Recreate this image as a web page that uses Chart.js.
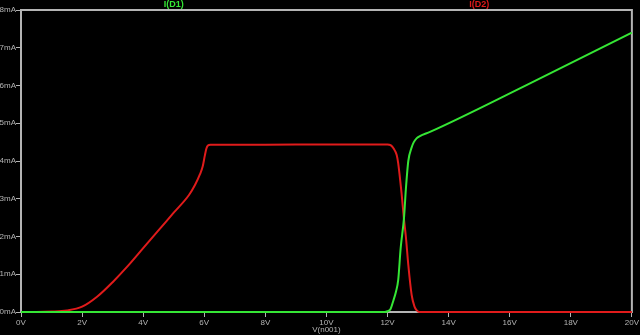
<!DOCTYPE html>
<html>
<head>
<meta charset="utf-8">
<script src="https://cdn.jsdelivr.net/npm/chart.js@4/dist/chart.umd.min.js"></script>
<style>
    html, body { margin: 0; padding: 0; background: #000; }
    #wrap { width: 640px; height: 335px; }
</style>
</head>
<body>
<div id="wrap"><canvas id="ivChart"></canvas></div>
<script>
// sweep values (V, mA)
const voltsD1 = [0, 4, 8, 11.9, 12.0, 12.1, 12.19, 12.28, 12.35, 12.43, 12.54, 12.6, 12.68, 12.79, 12.86, 12.95, 13.06, 13.39, 16.55, 20];
const currD1  = [0, 0, 0, 0, 0.02, 0.08, 0.3, 0.55, 0.85, 1.69, 2.5, 3.25, 4.0, 4.36, 4.5, 4.6, 4.66, 4.77, 6.01, 7.40];

const voltsD2 = [0, 0.5, 1.0, 1.5, 2.0, 2.5, 3.0, 3.5, 4.0, 4.5, 5.0, 5.5, 5.7, 5.86, 5.95, 6.02, 6.07, 6.12, 6.2, 8, 10, 12, 12.1, 12.2, 12.3, 12.35, 12.46, 12.54, 12.6, 12.68, 12.79, 12.88, 12.95, 13.05, 14, 20];
const currD2  = [0, 0, 0.01, 0.04, 0.14, 0.41, 0.79, 1.22, 1.69, 2.16, 2.63, 3.10, 3.37, 3.65, 3.86, 4.15, 4.33, 4.41, 4.43, 4.43, 4.44, 4.44, 4.42, 4.33, 4.16, 3.94, 3.14, 2.44, 2.0, 1.25, 0.45, 0.15, 0.05, 0, 0, 0];

const seriesNames = ['I(D1)', 'I(D2)'];
const seriesColors = ['#35e635', '#e01b1b'];

const frameColor = '#b4b4b4';
const textFont = { family: "'Liberation Sans', Arial, sans-serif", size: 8 };

function toPoints(xs, ys) {
    return xs.map((x, i) => ({ x: x, y: ys[i] }));
}

// black background, grey frame round the plot area
const ltFrame = {
    id: 'ltFrame',
    beforeDraw(chart) {
        const c = chart.ctx;
        c.save();
        c.fillStyle = '#000';
        c.fillRect(0, 0, chart.width, chart.height);
        c.restore();
    },
    beforeDatasetsDraw(chart) {
        const a = chart.chartArea;
        const c = chart.ctx;
        c.save();
        c.strokeStyle = frameColor;
        c.lineWidth = 2;
        c.strokeRect(a.left, a.top, a.right - a.left, a.bottom - a.top);
        c.restore();
    }
};

// trace names above the frame, at 1/4 and 3/4 of the width
const traceLabels = {
    id: 'traceLabels',
    afterDraw(chart) {
        const a = chart.chartArea;
        const c = chart.ctx;
        c.save();
        c.font = "bold 9px 'Liberation Sans', Arial, sans-serif";
        c.textAlign = 'center';
        c.textBaseline = 'middle';
        chart.data.datasets.forEach((ds, i) => {
            c.fillStyle = ds.borderColor;
            c.fillText(ds.label, a.left + (a.right - a.left) * (i === 0 ? 0.25 : 0.75), a.top - 5);
        });
        c.restore();
    }
};

new Chart(document.getElementById('ivChart'), {
    type: 'line',
    data: {
        datasets: [{
            label: seriesNames[0],
            data: toPoints(voltsD1, currD1),
            borderColor: seriesColors[0],
            borderWidth: 2,
            pointRadius: 0,
            cubicInterpolationMode: 'monotone',
            clip: 4
        }, {
            label: seriesNames[1],
            data: toPoints(voltsD2, currD2),
            borderColor: seriesColors[1],
            borderWidth: 2,
            pointRadius: 0,
            cubicInterpolationMode: 'monotone',
            clip: 4
        }]
    },
    options: {
        responsive: true,
        maintainAspectRatio: false,
        animation: false,
        layout: { padding: { top: 10, right: 7, left: 0, bottom: 0 } },
        plugins: {
            legend: { display: false },
            tooltip: { enabled: false }
        },
        scales: {
            x: {
                type: 'linear',
                min: 0,
                max: 20,
                border: { display: false },
                grid: { drawOnChartArea: false, drawTicks: true, tickLength: 5, color: frameColor },
                ticks: {
                    stepSize: 2,
                    padding: 1,
                    maxRotation: 0,
                    color: frameColor,
                    font: textFont,
                    callback: v => v + 'V'
                },
                title: {
                    display: true,
                    text: 'V(n001)',
                    color: frameColor,
                    font: textFont,
                    padding: { top: 0, bottom: 0 }
                },
                afterFit: scale => { scale.height = 23; }
            },
            y: {
                min: 0,
                max: 8,
                border: { display: false },
                grid: { drawOnChartArea: false, drawTicks: true, tickLength: 5, color: frameColor },
                ticks: {
                    stepSize: 1,
                    padding: 0,
                    color: frameColor,
                    font: textFont,
                    callback: v => v + 'mA'
                },
                afterFit: scale => { scale.width = 21; }
            }
        }
    },
    plugins: [ltFrame, traceLabels]
});
</script>
</body>
</html>
